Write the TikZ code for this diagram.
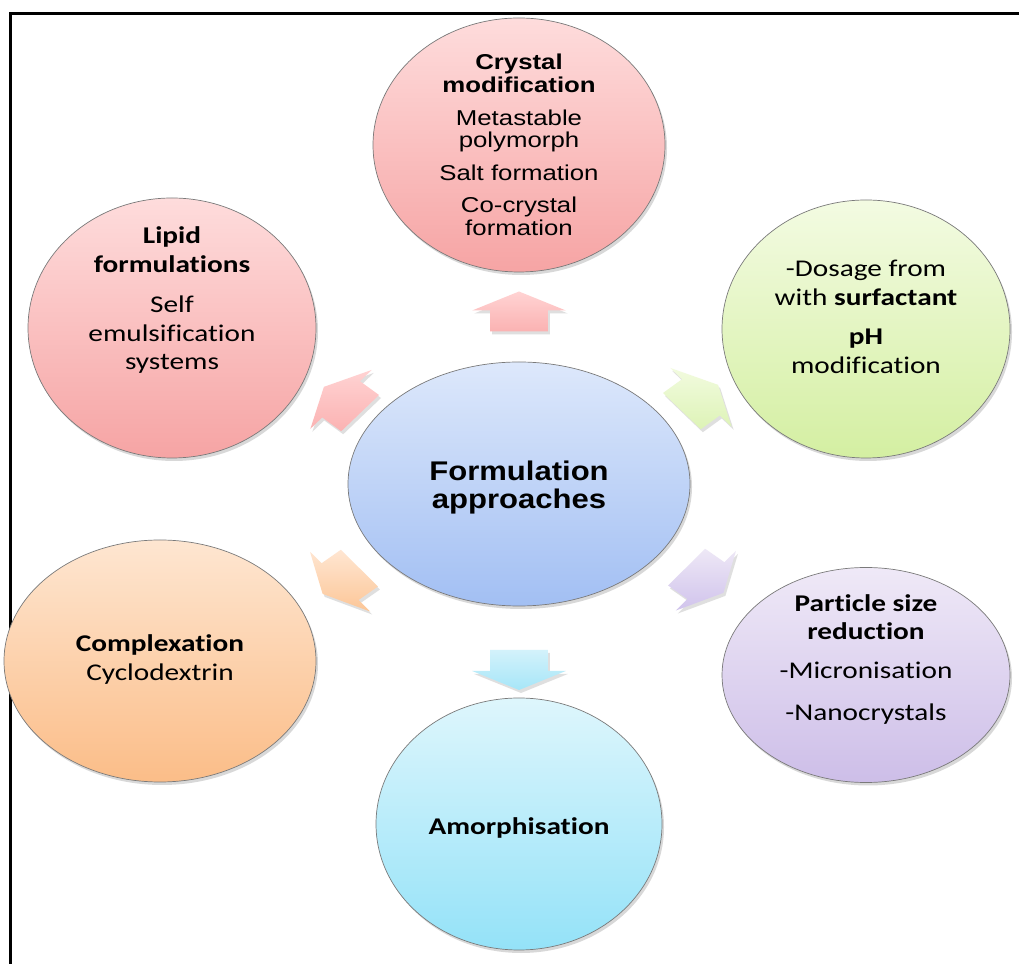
\documentclass[tikz,border=0pt]{standalone}
\usepackage{fontspec}
\usepackage{graphicx}
\setmainfont[Ligatures=NoCommon]{Carlito}
\newfontfamily\arialfont{Liberation Sans}
\usetikzlibrary{shapes.geometric,shadows,calc}

% bubble fills (top -> bottom)
\definecolor{redA}{HTML}{FEDCDC}\definecolor{redB}{HTML}{F6A4A4}
\definecolor{grnA}{HTML}{F3FBE2}\definecolor{grnB}{HTML}{D4EFA2}
\definecolor{purA}{HTML}{EFE9F7}\definecolor{purB}{HTML}{CDBEE8}
\definecolor{oraA}{HTML}{FEE6D1}\definecolor{oraB}{HTML}{FBBD88}
\definecolor{cyaA}{HTML}{DEF6FC}\definecolor{cyaB}{HTML}{94E2F8}
\definecolor{bluA}{HTML}{DDE8FB}\definecolor{bluB}{HTML}{A2BFF3}
\definecolor{rimgray}{HTML}{7A7A7A}
% block arrow fills
\definecolor{arRedA}{HTML}{FFD3D3}\definecolor{arRedB}{HTML}{FBB2B2}
\definecolor{arGrnA}{HTML}{F2FBDF}\definecolor{arGrnB}{HTML}{DDF3B6}
\definecolor{arPurA}{HTML}{EEE8F6}\definecolor{arPurB}{HTML}{D0C3EC}
\definecolor{arOraA}{HTML}{FFE6D2}\definecolor{arOraB}{HTML}{FCC697}
\definecolor{arCyaA}{HTML}{D3F2FB}\definecolor{arCyaB}{HTML}{A6E6F8}

\tikzset{
  bubble/.style={ellipse, draw=rimgray, line width=0.7pt, inner sep=0pt,
    drop shadow={opacity=0.3, shadow xshift=2pt, shadow yshift=-3pt}},
  caption/.style={inner sep=0pt, align=center, text=black},
  arrowshadow/.style={drop shadow={opacity=0.25, shadow xshift=2pt, shadow yshift=-3pt}},
}

% widened centred lines of text
\newcommand\widelines[2]{\scalebox{#1}[1]{\begin{tabular}{@{}c@{}}#2\end{tabular}}}
% block arrow: centre, direction, top colour, bottom colour
\newcommand\blockarrow[4]{%
  \begin{scope}[shift={(#1)}, xscale=1.2]
    \path[rotate=#2, top color=#3, bottom color=#4, arrowshadow]
      (-20,-24) -- (1,-24) -- (1,-39) -- (20,0) -- (1,39) -- (1,24) -- (-20,24) -- cycle;
  \end{scope}}

\begin{document}
\begin{tikzpicture}[x=1pt, y=1pt]
  \useasboundingbox (0,0) rectangle (1019,963);
  \clip (0,0) rectangle (1019,963);
  \fill[white] (0,0) rectangle (1019,963);

  % outer frame (runs off the right and bottom edges)
  \draw[line width=3pt] (10,949) rectangle (1040,-20);

  % bubbles
  \node[bubble, minimum width=342pt, minimum height=244pt, top color=bluA, bottom color=bluB] (center) at (519,479) {};
  \node[bubble, minimum width=292pt, minimum height=254pt, top color=redA, bottom color=redB] (crystal) at (519,818) {};
  \node[bubble, minimum width=288pt, minimum height=260pt, top color=redA, bottom color=redB] (lipid) at (172,635) {};
  \node[bubble, minimum width=288pt, minimum height=258pt, top color=grnA, bottom color=grnB] (ph) at (866,634) {};
  \node[bubble, minimum width=288pt, minimum height=215pt, top color=purA, bottom color=purB] (particle) at (866,288) {};
  \node[bubble, minimum width=312pt, minimum height=242pt, top color=oraA, bottom color=oraB] (complex) at (160,302) {};
  \node[bubble, minimum width=286pt, minimum height=252pt, top color=cyaA, bottom color=cyaB] (amorph) at (519,139) {};

  % block arrow positions around the centre bubble
  \coordinate (arr-up)   at ($(center)+(0,172.5)$);
  \coordinate (arr-down) at ($(center)+(0,-186)$);
  \coordinate (arr-ne)   at ($(center)+(181,86)$);
  \coordinate (arr-nw)   at ($(center)+(-177,84)$);
  \coordinate (arr-se)   at ($(center)+(186,-96)$);
  \coordinate (arr-sw)   at ($(center)+(-178,-97)$);

  \blockarrow{arr-up}{90}{arRedA}{arRedB}
  \blockarrow{arr-down}{-90}{arCyaA}{arCyaB}
  \blockarrow{arr-ne}{41}{arGrnA}{arGrnB}
  \blockarrow{arr-nw}{139}{arRedA}{arRedB}
  \blockarrow{arr-se}{-40}{arPurA}{arPurB}
  \blockarrow{arr-sw}{220}{arOraA}{arOraB}

  % texts
  \node[caption] (center-t) at (519,474)
    {\arialfont\bfseries\fontsize{27}{27.5}\selectfont\widelines{1.15}{Formulation\\approaches}};
  \node[caption] (crystal-t) at (519,815)
    {\arialfont\fontsize{21.5}{22}\selectfont\widelines{1.2}{\textbf{Crystal}\\\textbf{modification}\\[11pt]Metastable\\polymorph\\[11pt]Salt formation\\[10pt]Co-crystal\\formation}};
  \node[caption] (lipid-t) at (172,662)
    {\fontsize{24}{28.5}\selectfont\widelines{1.22}{\textbf{Lipid}\\\textbf{formulations}\\[12pt]Self\\emulsification\\systems}};
  \node[caption] (ph-t) at (866,644)
    {\fontsize{24}{29.5}\selectfont\widelines{1.22}{-Dosage from\\with \textbf{surfactant}\\[9pt]\textbf{pH}\\modification}};
  \node[caption] (particle-t) at (866,303)
    {\fontsize{24}{28}\selectfont\widelines{1.22}{\textbf{Particle size}\\\textbf{reduction}\\[11pt]-Micronisation\\[14pt]-Nanocrystals}};
  \node[caption] (complex-t) at (160,303)
    {\fontsize{24}{29}\selectfont\widelines{1.22}{\textbf{Complexation}\\Cyclodextrin}};
  \node[caption] (amorph-t) at (519,134)
    {\fontsize{24}{29}\selectfont\widelines{1.22}{\textbf{Amorphisation}}};
\end{tikzpicture}
\end{document}
